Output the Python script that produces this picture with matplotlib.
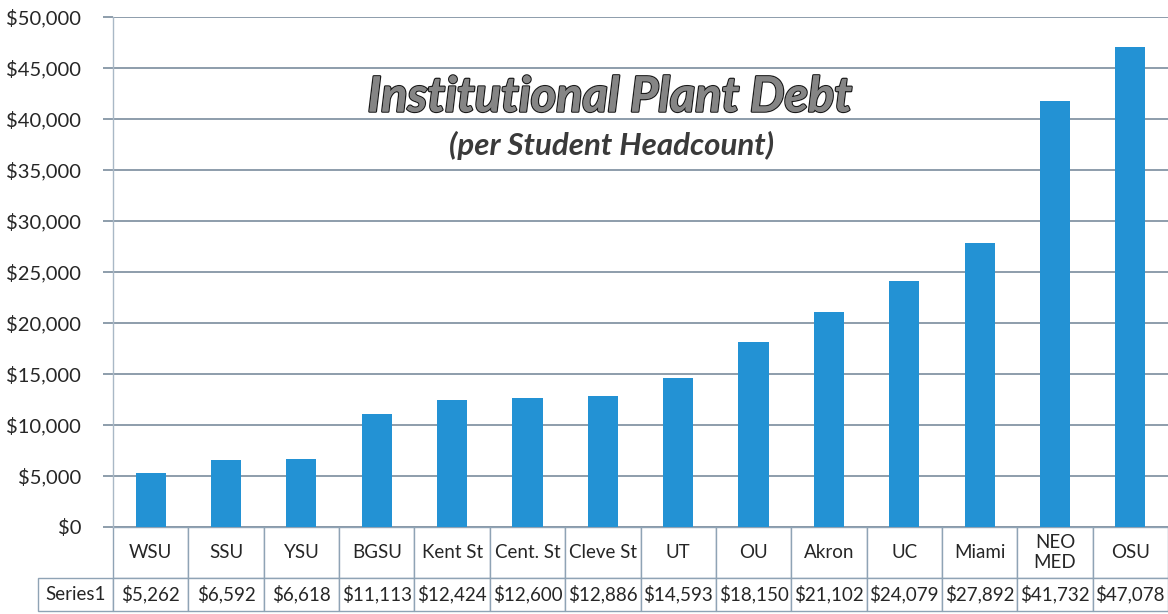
import matplotlib
matplotlib.use("Agg")
import matplotlib.pyplot as plt
import matplotlib.patheffects as pe
from matplotlib.ticker import FuncFormatter

# data
schools = ['WSU', 'SSU', 'YSU', 'BGSU', 'Kent St', 'Cent. St', 'Cleve St',
           'UT', 'OU', 'Akron', 'UC', 'Miami', 'NEO\nMED', 'OSU']
debt = [5262, 6592, 6618, 11113, 12424, 12600, 12886,
        14593, 18150, 21102, 24079, 27892, 41732, 47078]
series_name = 'Series1'
yticks = [0, 5000, 10000, 15000, 20000, 25000, 30000, 35000, 40000, 45000, 50000]

bar_color = '#2392D4'
grid_color = '#6F8294'
cell_edge = '#8FA3B5'
txt_color = '#262626'

plt.rcParams['font.family'] = ['Lato', 'DejaVu Sans']

fig = plt.figure(figsize=(11.68, 6.14), dpi=100)
ax = fig.add_axes([113 / 1168, 1 - 527 / 614, 1055 / 1168, 510 / 614])

x = list(range(len(schools)))
ax.bar(x, debt, width=0.4, color=bar_color, zorder=3)

ax.set_xlim(-0.5, len(schools) - 0.5)
ax.set_ylim(0, 50000)
ax.set_yticks(yticks)
ax.yaxis.set_major_formatter(FuncFormatter(lambda v, p: f"${v:,.0f}"))
ax.set_xticks([])
ax.grid(axis='y', color=grid_color, linewidth=1.1, zorder=0)
ax.tick_params(axis='y', length=7, width=1.1, color=grid_color,
               labelsize=14.5, labelcolor=txt_color, pad=16)

for side in ['top', 'right', 'bottom']:
    ax.spines[side].set_visible(False)
ax.spines['left'].set_color('#A9B8C6')
ax.spines['left'].set_linewidth(1.0)

# data table under the axes
n = len(schools)
cell_text = [[f"${v:,}" for v in debt]]
tbl = ax.table(cellText=cell_text, colLabels=schools, cellLoc='center',
               colWidths=[1 / n] * n,
               bbox=[0, -(611 - 527) / 510, 1, (611 - 527) / 510])
tbl.add_cell(1, -1, width=1 / n, height=33, text=series_name, loc='center')
tbl.auto_set_font_size(False)
for (r, c), cell in tbl.get_celld().items():
    cell.set_edgecolor(cell_edge)
    cell.set_linewidth(1.0)
    cell.get_text().set_color(txt_color)
    cell.get_text().set_fontsize(13.5)
    cell.set_height(51 if r == 0 else 33)

fig.text(0.522, 0.842, 'Institutional Plant Debt', ha='center', va='center',
         fontsize=35, fontweight='bold', fontstyle='italic', color='#858585',
         path_effects=[pe.withStroke(linewidth=1.8, foreground='#1a1a1a'),
                       pe.Normal()])
fig.text(0.524, 0.763, '(per Student Headcount)', ha='center', va='center',
         fontsize=22.5, fontweight='bold', fontstyle='italic', color='#3a3a3a')

fig.savefig('out.png', dpi=100)
